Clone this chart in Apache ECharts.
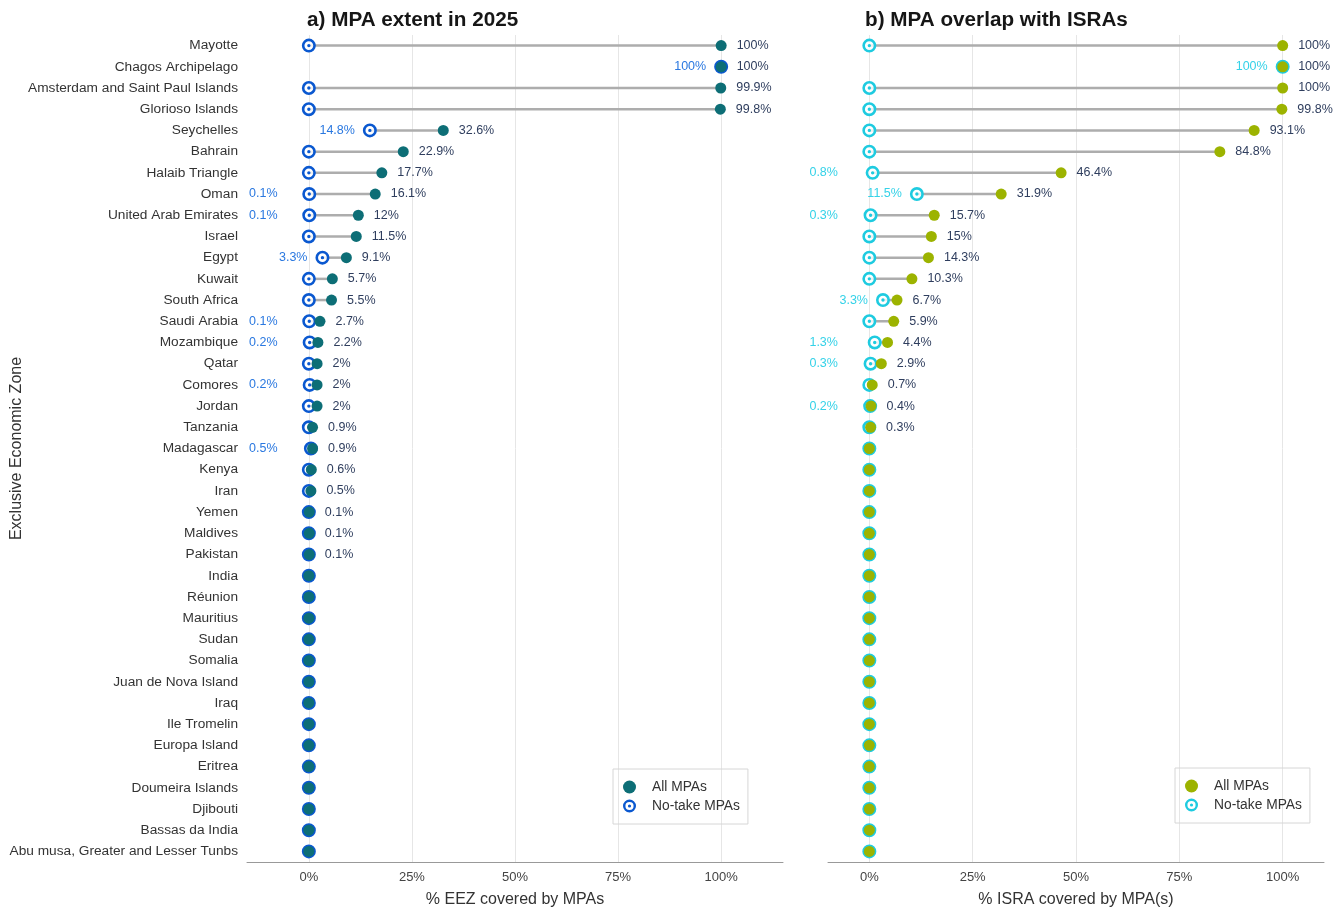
<!DOCTYPE html>
<html>
<head>
<meta charset="utf-8">
<title>MPA extent and ISRA overlap</title>
<script src="https://cdn.jsdelivr.net/npm/echarts@6/dist/echarts.min.js"></script>
<style>
  html, body { margin: 0; padding: 0; background: #fff; }
  #chart { width: 1333px; height: 907px; }
</style>
</head>
<body>
<div id="chart"></div>
<script>
// EEZ names, top to bottom
const eez = [
  'Mayotte', 'Chagos Archipelago', 'Amsterdam and Saint Paul Islands', 'Glorioso Islands',
  'Seychelles', 'Bahrain', 'Halaib Triangle', 'Oman', 'United Arab Emirates', 'Israel',
  'Egypt', 'Kuwait', 'South Africa', 'Saudi Arabia', 'Mozambique', 'Qatar', 'Comores',
  'Jordan', 'Tanzania', 'Madagascar', 'Kenya', 'Iran', 'Yemen', 'Maldives', 'Pakistan',
  'India', 'Réunion', 'Mauritius', 'Sudan', 'Somalia', 'Juan de Nova Island', 'Iraq',
  'Ile Tromelin', 'Europa Island', 'Eritrea', 'Doumeira Islands', 'Djibouti',
  'Bassas da India', 'Abu musa, Greater and Lesser Tunbs'
]

// a) % EEZ covered
const allEez = [100, 100, 99.9, 99.8, 32.6, 22.9, 17.7, 16.1, 12, 11.5, 9.1, 5.7, 5.5, 2.7, 2.2, 2, 2, 2,
  0.9, 0.9, 0.6, 0.5, 0.1, 0.1, 0.1, 0, 0, 0, 0, 0, 0, 0, 0, 0, 0, 0, 0, 0, 0]
const noTakeEez = [0, 100, 0, 0, 14.8, 0, 0, 0.1, 0.1, 0, 3.3, 0, 0, 0.1, 0.2, 0, 0.2, 0,
  0, 0.5, 0, 0, 0, 0, 0, 0, 0, 0, 0, 0, 0, 0, 0, 0, 0, 0, 0, 0, 0]

// b) % ISRA covered
const allIsra = [100, 100, 100, 99.8, 93.1, 84.8, 46.4, 31.9, 15.7, 15, 14.3, 10.3, 6.7, 5.9, 4.4, 2.9, 0.7, 0.4,
  0.3, 0, 0, 0, 0, 0, 0, 0, 0, 0, 0, 0, 0, 0, 0, 0, 0, 0, 0, 0, 0]
const noTakeIsra = [0, 100, 0, 0, 0, 0, 0.8, 11.5, 0.3, 0, 0, 0, 3.3, 0, 1.3, 0.3, 0, 0.2,
  0, 0, 0, 0, 0, 0, 0, 0, 0, 0, 0, 0, 0, 0, 0, 0, 0, 0, 0, 0, 0]

const xTicks = [0, 25, 50, 75, 100]

const FONT = '"Liberation Sans", Arial, sans-serif'
const BULLSEYE = 'path://M7 0A7 7 0 1 1 -7 0A7 7 0 1 1 7 0Z' +
  'M4.4 0A4.4 4.4 0 1 0 -4.4 0A4.4 4.4 0 1 0 4.4 0Z' +
  'M1.7 0A1.7 1.7 0 1 1 -1.7 0A1.7 1.7 0 1 1 1.7 0Z'

// two panels share the rows, differ in x range and colours
const panels = [
  {
    all: allEez, noTake: noTakeEez, left: 247, width: 536, min: -15, max: 115,
    dot: '#0d6e76', ring: '#0a58d0', ringLabel: '#2a78e0', titleLeft: 307,
    title: 'a) MPA extent in 2025', xName: '% EEZ covered by MPAs', legendLeft: 613, legendTop: 769
  },
  {
    all: allIsra, noTake: noTakeIsra, left: 828, width: 496, min: -10, max: 110,
    dot: '#9cb300', ring: '#1ecbe0', ringLabel: '#35d2e8', titleLeft: 865,
    title: 'b) MPA overlap with ISRAs', xName: '% ISRA covered by MPA(s)', legendLeft: 1175, legendTop: 768
  }
]

const grid = [], xAxis = [], yAxis = [], series = [], legend = [], title = []

panels.forEach((p, k) => {
  const pxPer = p.width / (p.max - p.min)
  grid.push({ left: p.left, width: p.width, top: 35, bottom: 45, outerBoundsMode: 'none' })
  title.push({
    text: p.title, left: p.titleLeft, top: 10, padding: 0,
    textStyle: { fontFamily: FONT, fontSize: 20.7, fontWeight: 'bold', color: '#161616' }
  })
  xAxis.push({
    type: 'value', gridIndex: k, min: p.min, max: p.max,
    name: p.xName, nameLocation: 'middle', nameGap: 30, nameMoveOverlap: false,
    nameTextStyle: { fontFamily: FONT, fontSize: 16, color: '#333' },
    axisLine: { show: true, lineStyle: { color: '#999', width: 1 } },
    axisTick: { show: false, customValues: xTicks },
    axisLabel: {
      customValues: xTicks, margin: 9, color: '#444', fontFamily: FONT, fontSize: 13,
      formatter: v => v + '%'
    },
    splitLine: { show: true, lineStyle: { color: '#e6e6e6', width: 1 } }
  })
  yAxis.push({
    type: 'category', gridIndex: k, data: eez, inverse: true,
    name: k === 0 ? 'Exclusive Economic Zone' : '', nameLocation: 'middle', nameGap: 222,
    nameRotate: 90, nameMoveOverlap: false,
    nameTextStyle: { fontFamily: FONT, fontSize: 16, color: '#333' },
    axisLine: { show: false }, axisTick: { show: false },
    axisLabel: { show: k === 0, margin: 9, color: '#333', fontFamily: FONT, fontSize: 13.7 },
    splitLine: { show: false }
  })

  // connecting segments
  series.push({
    type: 'custom', xAxisIndex: k, yAxisIndex: k, silent: true,
    data: eez.map((_, i) => [p.noTake[i], p.all[i], i]),
    encode: { x: [0, 1], y: 2 },
    renderItem: (params, api) => {
      const a = api.coord([api.value(0), api.value(2)])
      const b = api.coord([api.value(1), api.value(2)])
      return {
        type: 'line',
        shape: { x1: a[0], y1: a[1], x2: b[0], y2: b[1] },
        style: { stroke: '#adadad', lineWidth: 2.5 }
      }
    }
  })
  // white backing for the ring markers
  series.push({
    name: 'bg' + k, type: 'scatter', xAxisIndex: k, yAxisIndex: k, silent: true,
    symbol: 'circle', symbolSize: 12, itemStyle: { color: '#fff' },
    data: eez.map((_, i) => [p.noTake[i], i])
  })
  // no-take MPAs
  series.push({
    name: 'No-take MPAs', type: 'scatter', xAxisIndex: k, yAxisIndex: k,
    symbol: BULLSEYE, symbolSize: 14, itemStyle: { color: p.ring, opacity: 1 },
    data: eez.map((_, i) => {
      const v = p.noTake[i]
      const dist = v < 2 ? (v + 7.6) * pxPer - 7 : 8
      return {
        value: [v, i],
        label: {
          show: v > 0, position: 'left', distance: dist,
          formatter: v + '%', color: p.ringLabel, fontFamily: FONT, fontSize: 12.5
        }
      }
    })
  })
  // all MPAs
  series.push({
    name: 'All MPAs', type: 'scatter', xAxisIndex: k, yAxisIndex: k,
    symbol: 'circle', symbolSize: 11, itemStyle: { color: p.dot, opacity: 1 },
    data: eez.map((_, i) => {
      const v = p.all[i]
      return {
        value: [v, i],
        label: {
          show: v > 0, position: 'right', distance: 10,
          formatter: v + '%', color: '#2f3e5e', fontFamily: FONT, fontSize: 12.5
        }
      }
    })
  })

  legend.push({
    left: p.legendLeft, top: p.legendTop, orient: 'vertical',
    data: [
      { name: 'All MPAs', icon: 'circle', itemStyle: { color: p.dot } },
      { name: 'No-take MPAs', icon: BULLSEYE, itemStyle: { color: p.ring } }
    ],
    itemWidth: 13, itemHeight: 13, itemGap: 5,
    padding: [11, 8, 11, 10],
    borderColor: '#d6d6d6', borderWidth: 1,
    textStyle: { fontFamily: FONT, fontSize: 13.8, color: '#333', padding: [0, 0, 0, 11] },
    selectedMode: false
  })
})

const chart = echarts.init(document.getElementById('chart'), null, { renderer: 'canvas' })
chart.setOption({
  animation: false,
  backgroundColor: '#fff',
  title, grid, xAxis, yAxis, legend, series
})
</script>
</body>
</html>
